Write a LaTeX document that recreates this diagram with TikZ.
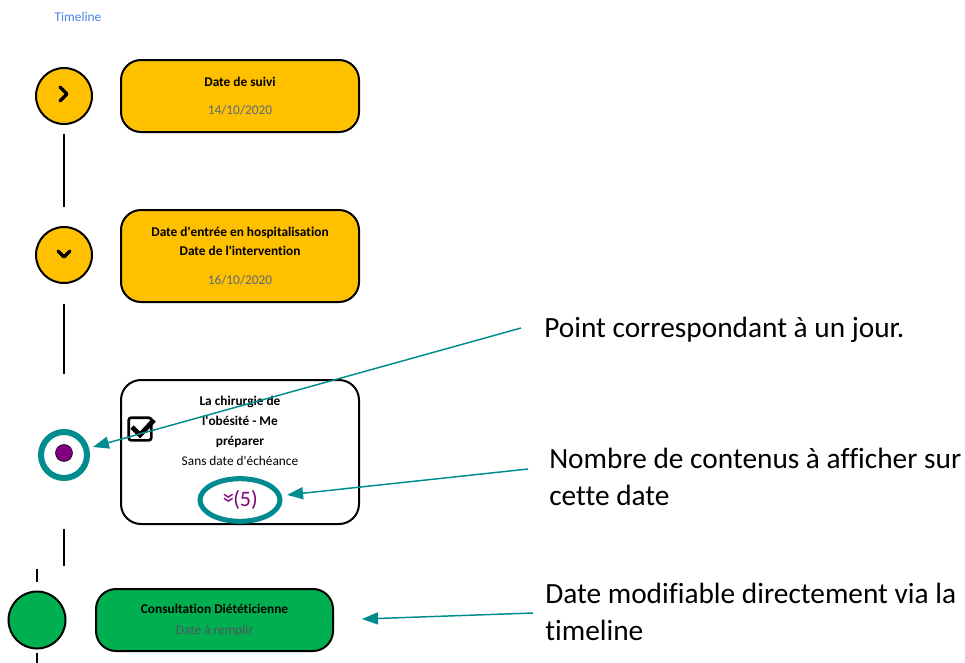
\documentclass[tikz,border=0pt]{standalone}
\usepackage{fontspec}
\setmainfont{Carlito}[Ligatures={NoCommon}]
\usetikzlibrary{arrows.meta,shapes.geometric}
\definecolor{jaune}{RGB}{255,192,0}
\definecolor{vert}{RGB}{0,176,80}
\definecolor{sarcelle}{RGB}{0,140,140}
\definecolor{violet}{RGB}{128,0,128}
\definecolor{gristexte}{RGB}{90,105,125}
\definecolor{grisvert}{RGB}{85,80,100}
\definecolor{bleulien}{RGB}{70,130,230}
\newcommand{\apos}{\textquotesingle}

\begin{document}
\begin{tikzpicture}[x=0.75pt, y=-0.75pt,
  jalon/.style = {circle, draw, line width=1.5pt, minimum size=42pt, inner sep=0pt},
  carte/.style = {rectangle, draw, line width=1.5pt, rounded corners=15pt, minimum width=178.5pt, align=center, inner sep=0pt, font=\fontsize{10}{14.5}\selectfont\bfseries},
  trait/.style = {line width=2.2pt},
  chevron/.style = {line width=2.6pt, line cap=round, line join=round},
  fleche/.style = {sarcelle, line width=1.1pt, -{Triangle[length=12pt, width=9pt]}},
  note/.style = {anchor=west, align=left, inner sep=0pt, font=\fontsize{22}{27.5}\selectfont}]

  \useasboundingbox (0,0) rectangle (965,662);

  % titre
  \node[bleulien, font=\fontsize{10}{11}\selectfont] (titre) at (78,17) {Timeline};

  % jalons
  \node[jalon, fill=jaune] (c1) at (64,96) {};
  \node[jalon, fill=jaune] (c2) at (64,255) {};
  \node[circle, draw=sarcelle, line width=4.5pt, minimum size=34.5pt, inner sep=0pt] (c3) at (64,455) {};
  \node[circle, fill=violet, draw=black, line width=0.4pt, minimum size=12.75pt, inner sep=0pt] (pt) at (64,453) {};
  \node[jalon, fill=vert, minimum size=42.75pt] (c4) at (37,620) {};
  \draw[chevron] (60,87) -- (67,94) -- (60,101);
  \draw[chevron] (58,251) -- (64,257) -- (70,251);

  % ligne du temps
  \draw[trait, shorten <=6.75pt, shorten >=14.25pt] (c1) -- (c2);
  \draw[trait, shorten <=15pt, shorten >=41.25pt] (c2) -- (c3);
  \draw[trait] ([yshift=-36pt]c3.south) -- ++(0,37);
  \draw[trait] ([yshift=6.4pt]c4.north) -- ++(0,-13);
  \draw[trait] ([yshift=-2.6pt]c4.south) -- ++(0,14);

  % cartes
  \node[carte, fill=jaune, minimum height=54pt] (b1) at (240,96)
    {Date de suivi\\[7pt]{\mdseries\color{gristexte}14/10/2020}};
  \node[carte, fill=jaune, minimum height=69pt] (b2) at (240,256)
    {Date d\apos entrée en hospitalisation\\Date de l\apos intervention\\[7pt]{\mdseries\color{gristexte}16/10/2020}};
  \node[carte, fill=white, minimum height=108pt] (b3) at (240,452) {};
  \node[align=center, inner sep=0pt, font=\fontsize{10}{15}\selectfont\bfseries] (t3) at (240,431)
    {La chirurgie de\\l\apos obésité - Me\\préparer\\{\mdseries Sans date d\apos échéance}};
  \node[ellipse, draw=sarcelle, line width=3.8pt, minimum width=60pt, minimum height=32pt, inner sep=0pt,
    text=violet, font=\fontsize{16.5}{17}\selectfont] (n5) at (240,500)
    {\raisebox{2.5pt}{\scalebox{1.15}{\rotatebox[origin=c]{-90}{»}}}(5)};
  \node[draw, line width=2pt, rounded corners=2pt, minimum size=17pt, inner sep=0pt] (coche) at (140,429) {};
  \draw[line width=3.6pt] (132,427) -- (140,435) -- (154,420);
  \node[carte, fill=vert, minimum width=177.75pt, minimum height=46.5pt] (b4) at (214.5,620)
    {Consultation Diététicienne\\[1.25pt]{\mdseries\color{grisvert}Date à remplir}};

  % annotations
  \node[note] (l1) at (544,330) {Point correspondant à un jour.};
  \node[note] (l2) at (549,477) {Nombre de contenus à afficher sur\\cette date};
  \node[note] (l3) at (545,612) {Date modifiable directement via la\\timeline};
  \coordinate (q1) at (521,328);
  \coordinate (q2) at (528,469);
  \coordinate (q3) at (533,613);
  \draw[fleche, shorten >=3pt] (q1) -- (c3);
  \draw[fleche, shorten >=4pt] (q2) -- (n5);
  \draw[fleche, shorten >=21pt] (q3) -- (b4.east);

\end{tikzpicture}
\end{document}
